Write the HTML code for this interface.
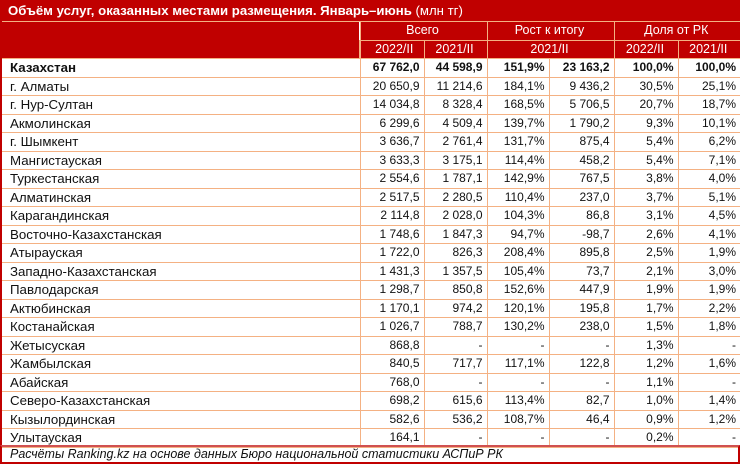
<!DOCTYPE html>
<html><head><meta charset="utf-8"><style>
html,body{margin:0;padding:0;background:#fff}
#w{position:relative;width:740px;height:464px;overflow:hidden;font-family:"Liberation Sans",sans-serif;font-size:12px;color:#111}
#title{position:absolute;left:0;top:0;width:740px;height:21px;background:#c00000;color:#fff;font-weight:bold;font-size:13.2px;line-height:21px;padding-left:8px;box-sizing:border-box}
#title span{font-weight:normal}
table{position:absolute;left:0;top:21px;border-collapse:collapse;table-layout:fixed;width:740px}
td{border:1px solid #f4b183;padding:0 4px 0 2px;height:17.5px;line-height:17px;white-space:nowrap;overflow:hidden;text-align:right}
td:first-child{text-align:left;padding-left:8px;border-left:2px solid #c00000;font-size:13.3px}
td:last-child{border-right:2px solid #c00000}
tr.h td{background:#c00000;color:#fff;text-align:center;border-color:#f4b183;font-size:12.5px}
tr.h td.e{border-left:2px solid #c00000}
tr.b td{font-weight:bold}
#foot{position:absolute;left:0;top:445px;width:740px;height:19px;border:2px solid #c00000;border-top:2px solid #d05050;box-sizing:border-box;font-style:italic;font-size:12.5px;line-height:15px;padding-left:8px}
</style></head><body><div id="w">
<div id="title">Объём услуг, оказанных местами размещения. Январь–июнь <span>(млн тг)</span></div>
<table>
<colgroup><col style="width:359px"><col style="width:64px"><col style="width:63px"><col style="width:62px"><col style="width:65px"><col style="width:64px"><col style="width:63px"></colgroup>
<tr class="h"><td class="e" rowspan="2"></td><td colspan="2">Всего</td><td colspan="2">Рост к итогу</td><td colspan="2">Доля от РК</td></tr>
<tr class="h"><td>2022/II</td><td>2021/II</td><td colspan="2">2021/II</td><td>2022/II</td><td>2021/II</td></tr>
<tr class="b"><td>Казахстан</td><td>67 762,0</td><td>44 598,9</td><td>151,9%</td><td>23 163,2</td><td>100,0%</td><td>100,0%</td></tr>
<tr><td>г. Алматы</td><td>20 650,9</td><td>11 214,6</td><td>184,1%</td><td>9 436,2</td><td>30,5%</td><td>25,1%</td></tr>
<tr><td>г. Нур-Султан</td><td>14 034,8</td><td>8 328,4</td><td>168,5%</td><td>5 706,5</td><td>20,7%</td><td>18,7%</td></tr>
<tr><td>Акмолинская</td><td>6 299,6</td><td>4 509,4</td><td>139,7%</td><td>1 790,2</td><td>9,3%</td><td>10,1%</td></tr>
<tr><td>г. Шымкент</td><td>3 636,7</td><td>2 761,4</td><td>131,7%</td><td>875,4</td><td>5,4%</td><td>6,2%</td></tr>
<tr><td>Мангистауская</td><td>3 633,3</td><td>3 175,1</td><td>114,4%</td><td>458,2</td><td>5,4%</td><td>7,1%</td></tr>
<tr><td>Туркестанская</td><td>2 554,6</td><td>1 787,1</td><td>142,9%</td><td>767,5</td><td>3,8%</td><td>4,0%</td></tr>
<tr><td>Алматинская</td><td>2 517,5</td><td>2 280,5</td><td>110,4%</td><td>237,0</td><td>3,7%</td><td>5,1%</td></tr>
<tr><td>Карагандинская</td><td>2 114,8</td><td>2 028,0</td><td>104,3%</td><td>86,8</td><td>3,1%</td><td>4,5%</td></tr>
<tr><td>Восточно-Казахстанская</td><td>1 748,6</td><td>1 847,3</td><td>94,7%</td><td>-98,7</td><td>2,6%</td><td>4,1%</td></tr>
<tr><td>Атырауская</td><td>1 722,0</td><td>826,3</td><td>208,4%</td><td>895,8</td><td>2,5%</td><td>1,9%</td></tr>
<tr><td>Западно-Казахстанская</td><td>1 431,3</td><td>1 357,5</td><td>105,4%</td><td>73,7</td><td>2,1%</td><td>3,0%</td></tr>
<tr><td>Павлодарская</td><td>1 298,7</td><td>850,8</td><td>152,6%</td><td>447,9</td><td>1,9%</td><td>1,9%</td></tr>
<tr><td>Актюбинская</td><td>1 170,1</td><td>974,2</td><td>120,1%</td><td>195,8</td><td>1,7%</td><td>2,2%</td></tr>
<tr><td>Костанайская</td><td>1 026,7</td><td>788,7</td><td>130,2%</td><td>238,0</td><td>1,5%</td><td>1,8%</td></tr>
<tr><td>Жетысуская</td><td>868,8</td><td>-</td><td>-</td><td>-</td><td>1,3%</td><td>-</td></tr>
<tr><td>Жамбылская</td><td>840,5</td><td>717,7</td><td>117,1%</td><td>122,8</td><td>1,2%</td><td>1,6%</td></tr>
<tr><td>Абайская</td><td>768,0</td><td>-</td><td>-</td><td>-</td><td>1,1%</td><td>-</td></tr>
<tr><td>Северо-Казахстанская</td><td>698,2</td><td>615,6</td><td>113,4%</td><td>82,7</td><td>1,0%</td><td>1,4%</td></tr>
<tr><td>Кызылординская</td><td>582,6</td><td>536,2</td><td>108,7%</td><td>46,4</td><td>0,9%</td><td>1,2%</td></tr>
<tr><td>Улытауская</td><td>164,1</td><td>-</td><td>-</td><td>-</td><td>0,2%</td><td>-</td></tr>
</table>
<div id="foot">Расчёты Ranking.kz на основе данных Бюро национальной статистики АСПиР РК</div>
</div></body></html>
